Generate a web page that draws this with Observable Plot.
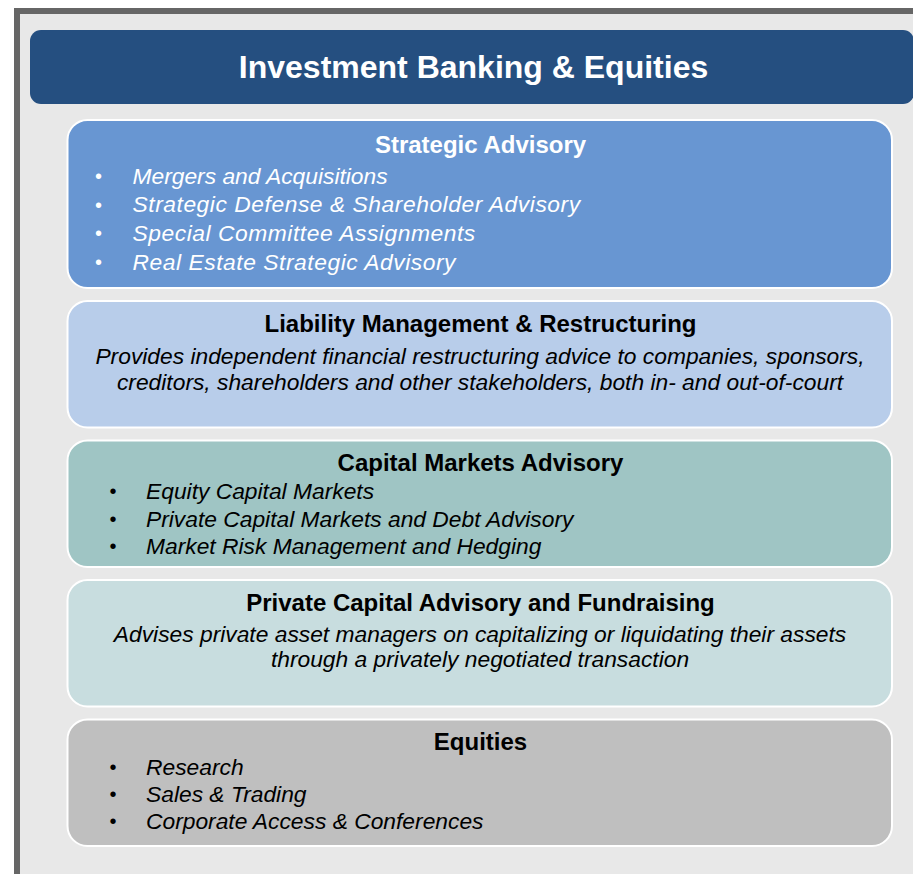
<!DOCTYPE html>
<html>
<head>
<meta charset="utf-8">
<script src="https://cdn.jsdelivr.net/npm/d3@7"></script>
<script src="https://cdn.jsdelivr.net/npm/@observablehq/plot@0.6"></script>
<style>
  html, body { margin: 0; padding: 0; background: #ffffff; overflow: hidden; }
</style>
</head>
<body>
<script>
// ---- Data ----
const headerTitle = "Investment Banking & Equities";
const sectionTitles = [
  "Strategic Advisory",
  "Liability Management & Restructuring",
  "Capital Markets Advisory",
  "Private Capital Advisory and Fundraising",
  "Equities"
];
const sectionKinds = ["bullets", "text", "bullets", "text", "bullets"];
const strategicItems = [
  "Mergers and Acquisitions",
  "Strategic Defense & Shareholder Advisory",
  "Special Committee Assignments",
  "Real Estate Strategic Advisory"
];
const liabilityText = [
  "Provides independent financial restructuring advice to companies, sponsors,",
  "creditors, shareholders and other stakeholders, both in- and out-of-court"
];
const capitalMarketsItems = [
  "Equity Capital Markets",
  "Private Capital Markets and Debt Advisory",
  "Market Risk Management and Hedging"
];
const privateCapitalText = [
  "Advises private asset managers on capitalizing or liquidating their assets",
  "through a privately negotiated transaction"
];
const equitiesItems = [
  "Research",
  "Sales & Trading",
  "Corporate Access & Conferences"
];
const sectionLines = [strategicItems, liabilityText, capitalMarketsItems, privateCapitalText, equitiesItems];

// ---- Layout & style (code, not data) ----
const W = 913, H = 874;
const palette = ["#6896d2", "#b8cdea", "#9fc5c4", "#c8dddf", "#bfbfbf"];
const textColors = ["#ffffff", "#000000", "#000000", "#000000", "#000000"];
const font = "Liberation Sans, Arial, Helvetica, sans-serif";

const boxes = [];
let cursorY = 120;
sectionTitles.forEach((title, i) => {
  const lines = sectionLines[i];
  const h = (sectionKinds[i] === "bullets" && lines.length >= 4) ? 168 : 126.5;
  boxes.push({title, i, x1: 67.5, x2: 892, y1: cursorY, y2: cursorY + h, fill: palette[i], tcolor: textColors[i]});
  cursorY += h + 13;
});

const titleOffset = i => (i === 0 ? 25 : 22.5);
const titleRows = boxes.map(b => ({
  text: b.title, x: 480, y: b.y1 + titleOffset(b.i), color: b.tcolor
}));

const itemRows = [];
const bulletRows = [];
boxes.forEach(b => {
  const lines = sectionLines[b.i];
  const kind = sectionKinds[b.i];
  const titleY = b.y1 + titleOffset(b.i);
  if (kind === "bullets") {
    const four = lines.length >= 4;
    const step = four ? 28.7 : (b.i === 2 ? 27.5 : 26.7);
    const first = titleY + (b.i === 4 ? 25.5 : (b.i === 2 ? 28.5 : 31));
    const bx = four ? 98 : 112.5;
    const tx = four ? 132 : 145.5;
    lines.forEach((t, k) => {
      itemRows.push({text: t, x: tx, y: first + k * step, color: b.tcolor, anchor: "start"});
      bulletRows.push({text: "\u2022", x: bx, y: first + k * step, color: b.tcolor});
    });
  } else {
    const step = b.i === 1 ? 25.7 : 25;
    const first = titleY + (b.i === 1 ? 33 : 32);
    lines.forEach((t, k) => {
      itemRows.push({text: t, x: 479.5, y: first + k * step, color: b.tcolor, anchor: "middle"});
    });
  }
});

const frame = [{x1: 17, y1: 11, x2: W + 20, y2: H + 20}];
const header = [{x1: 30, y1: 30, x2: 914, y2: 104, text: headerTitle, tx: 473, ty: 67.5}];

const chart = Plot.plot({
  width: W,
  height: H,
  margin: 0,
  x: {domain: [0, W], range: [0, W], axis: null},
  y: {domain: [0, H], range: [0, H], axis: null},
  style: {fontFamily: font, overflow: "hidden", background: "#ffffff"},
  marks: [
    Plot.rect(frame, {x1: "x1", x2: "x2", y1: "y1", y2: "y2", fill: "#e8e8e8", stroke: "#666666", strokeWidth: 6}),
    Plot.rect(header, {x1: "x1", x2: "x2", y1: "y1", y2: "y2", fill: "#254f80", rx: 11, ry: 11}),
    Plot.text(header, {x: "tx", y: "ty", text: "text", fill: "#ffffff", fontSize: 32, fontWeight: "bold", textAnchor: "middle"}),
    Plot.rect(boxes, {x1: "x1", x2: "x2", y1: "y1", y2: "y2", fill: "fill", stroke: "#ffffff", strokeWidth: 2, rx: 20, ry: 20}),
    Plot.text(titleRows, {x: "x", y: "y", text: "text", fill: "color", fontSize: 24, fontWeight: "bold", textAnchor: "middle"}),
    Plot.text(bulletRows, {x: "x", y: "y", text: "text", fill: "color", fontSize: 20, textAnchor: "middle"}),
    Plot.text(itemRows.filter(d => d.anchor === "start"), {x: "x", y: "y", text: "text", fill: "color", fontSize: 22.8, fontStyle: "italic", textAnchor: "start"}),
    Plot.text(itemRows.filter(d => d.anchor === "middle"), {x: "x", y: "y", text: "text", fill: "color", fontSize: 22.8, fontStyle: "italic", textAnchor: "middle"})
  ]
});
document.body.appendChild(chart);

// the later strategic advisory items are set slightly wider in the original
const spaced = new Set(strategicItems.slice(1));
d3.select(chart).selectAll("text")
  .filter(function () { return spaced.has(this.textContent); })
  .attr("letter-spacing", "0.55px");
</script>
</body>
</html>
